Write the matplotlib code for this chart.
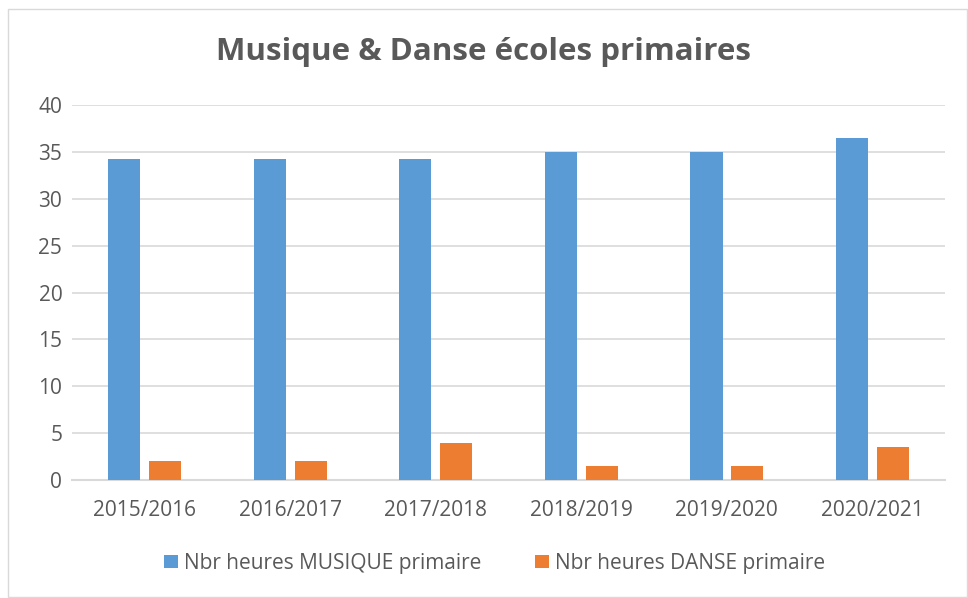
import numpy as np
import matplotlib
matplotlib.use("Agg")
import matplotlib.pyplot as plt
from matplotlib.patches import Rectangle

# the school years on the x axis
years = ["2015/2016", "2016/2017", "2017/2018", "2018/2019", "2019/2020", "2020/2021"]

# hours per series
musique = [34.2, 34.2, 34.2, 35.0, 35.0, 36.5]
danse = [2.0, 2.0, 4.0, 1.5, 1.5, 3.5]

series_names = ["Nbr heures MUSIQUE primaire", "Nbr heures DANSE primaire"]
yticks = [0, 5, 10, 15, 20, 25, 30, 35, 40]

plt.rcParams["font.family"] = ["Open Sans", "DejaVu Sans"]
grey_text = "#595959"

fig = plt.figure(figsize=(9.68, 5.98), dpi=100)
ax = fig.add_axes([0.0744, 0.197, 0.902, 0.6274])

x = np.arange(len(years))
w = 0.22
ax.bar(x - 0.14, musique, width=w, color="#5B9BD5", label=series_names[0], zorder=3)
ax.bar(x + 0.14, danse, width=w, color="#ED7D31", label=series_names[1], zorder=3)

ax.set_xlim(-0.5, len(years) - 0.5)
ax.set_ylim(0, 40)
ax.set_yticks(yticks)
ax.set_xticks(x)
ax.set_xticklabels(years)
ax.tick_params(length=0, labelsize=15, colors=grey_text)
ax.tick_params(axis="x", pad=14)
ax.tick_params(axis="y", pad=7)

# light grid lines like excel
ax.grid(axis="y", color="#d9d9d9", linewidth=1.2, zorder=0)
for s in ["top", "right", "left"]:
    ax.spines[s].set_visible(False)
ax.spines["bottom"].set_color("#d9d9d9")
ax.spines["bottom"].set_linewidth(1.5)

fig.text(0.5, 0.913, "Musique & Danse écoles primaires", ha="center", va="center",
         fontsize=22.5, fontweight="bold", color=grey_text)

fig.legend(loc="center", bbox_to_anchor=(0.511, 0.058), ncol=2, frameon=False,
           fontsize=15, labelcolor=grey_text, handlelength=0.65, handleheight=0.65,
           handletextpad=0.3, columnspacing=2.6)

# the thin frame round the whole chart
fig.patches.append(Rectangle((8 / 968, 0.002), 1 - 9 / 968, 1 - 10 / 598,
                             transform=fig.transFigure, fill=False,
                             edgecolor="#d9d9d9", linewidth=1))

fig.savefig("out.png", dpi=100)
